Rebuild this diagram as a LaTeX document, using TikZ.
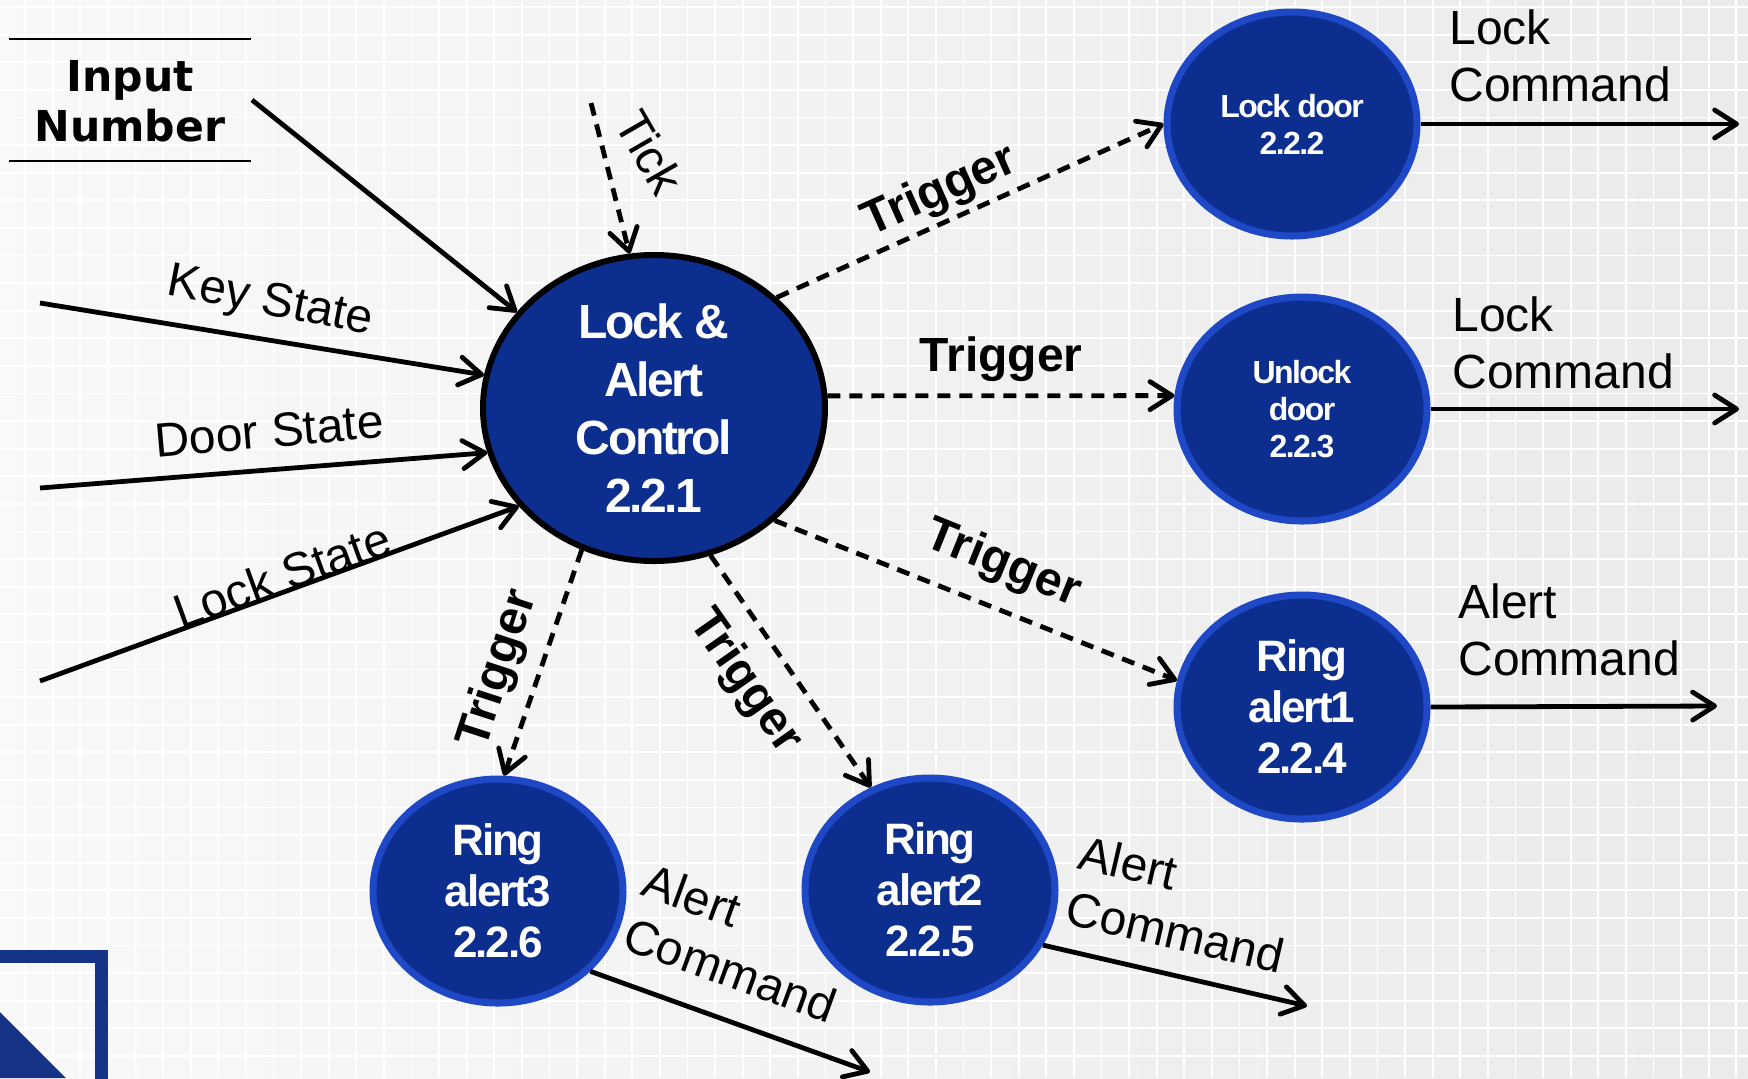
\documentclass[tikz,border=0pt]{standalone}
\usepackage{fontspec}
\setmainfont{Liberation Sans}
\newfontfamily\storefont{DejaVu Sans}
\newfontfamily\procfont[LetterSpace=-5]{Liberation Sans}
\usetikzlibrary{
    arrows.meta,
    shapes.geometric
}
\definecolor{procblue}{RGB}{12,46,142}
\definecolor{ringblue}{RGB}{30,72,198}
\definecolor{frameblue}{RGB}{22,52,135}

\begin{document}
\begin{tikzpicture}[x=0.5pt, y=-0.5pt,
    >={Straight Barb[length=11pt,width=14pt,round]},
    flow/.style={->, line width=2.4pt},
    trig/.style={->, line width=2.4pt, dash pattern=on 6.5pt off 4.5pt},
    proc/.style={ellipse, fill=procblue, draw=ringblue, line width=3.5pt,
        inner sep=0pt, text=white, align=center,
        minimum width=125pt, minimum height=112pt},
    ctlproc/.style={ellipse, fill=procblue, draw=black, line width=3pt,
        inner sep=0pt, text=white, align=center,
        minimum width=171pt, minimum height=153pt,
        font=\procfont\bfseries\fontsize{24}{29}\selectfont},
    smalltxt/.style={font=\procfont\bfseries\fontsize{16}{18.5}\selectfont},
    ringtxt/.style={font=\procfont\bfseries\fontsize{22}{25.5}\selectfont},
    lbl/.style={font=\fontsize{24}{28.5}\selectfont, align=left, inner sep=0pt},
    trg/.style={font=\bfseries\fontsize{24}{28}\selectfont, inner sep=0pt}
]
    \useasboundingbox (0,0) rectangle (1748,1078);
    % background paper
    \shade[left color=gray!5, right color=gray!16] (0,0) rectangle (1748,1078);
    \foreach \gx in {25,52.6,...,1748}
        \draw[white, line width=0.9pt] (\gx,0) -- (\gx,1078);
    \foreach \gy in {7,34.6,...,1078}
        \draw[white, line width=0.9pt] (0,\gy) -- (1748,\gy);
    % corner mark
    \draw[frameblue, line width=6.5pt] (-10,956) -- (101,956) -- (101,1090);
    \fill[frameblue] (0,1012) -- (66,1078) -- (0,1078) -- cycle;
    \draw[white, line width=1pt] (0,1010) -- (68,1078);

    % processes
    \node[ctlproc] (ctl) at (654,408) {Lock \&\\Alert\\Control\\2.2.1};
    \node[proc, smalltxt] (ldoor) at (1292,124) {Lock door\\2.2.2};
    \node[proc, smalltxt] (udoor) at (1302,409) {Unlock\\door\\2.2.3};
    \node[proc, ringtxt] (ring1) at (1302,707) {Ring\\alert1\\2.2.4};
    \node[proc, ringtxt] (ring2) at (930,890) {Ring\\alert2\\2.2.5};
    \node[proc, ringtxt] (ring3) at (498,891) {Ring\\alert3\\2.2.6};

    % data store
    \node[font=\storefont\bfseries\fontsize{21.3}{25}\selectfont, align=center,
        inner sep=0pt] (innum) at (130,101) {Input\\Number};
    \draw[line width=1pt] (9,39) -- (251,39);
    \draw[line width=1pt] (9,161) -- (251,161);

    % free ends
    \coordinate (numsrc) at (252,100);
    \coordinate (keysrc) at (40,303);
    \coordinate (doorsrc) at (40,488);
    \coordinate (locksrc) at (40,681);
    \coordinate (ticksrc) at (591,103);
    \coordinate (ldoorout) at (1739,124);
    \coordinate (udoorout) at (1739,409);
    \coordinate (ring1out) at (1717,706);
    \coordinate (ring2out) at (1307,1006);
    \coordinate (ring3out) at (870,1072);

    \draw[flow] (numsrc) -- (ctl.145);
    \draw[flow] (keysrc) -- (ctl.169);
    \draw[flow] (doorsrc) -- (ctl.195);
    \draw[flow] (locksrc) -- (ctl.216);
    \draw[trig] (ticksrc) -- (ctl.99);
    \draw[trig] (ctl.42) -- (ldoor.west);
    \draw[trig] (ctl.4) -- (udoor.174);
    \draw[trig] (ctl.317) -- (ring1.168);
    \draw[trig] (ctl.291) -- (ring2.120);
    \draw[trig] (ctl.243) -- (ring3.87);
    \draw[flow] (ldoor.east) -- (ldoorout);
    \draw[flow] (udoor.east) -- (udoorout);
    \draw[flow] (ring1.east) -- (ring1out);
    \draw[flow] (ring2.334) -- (ring2out);
    \draw[flow] (ring3.319) -- (ring3out);

    % labels
    \node[lbl, rotate=-11] (keylbl) at (270,303) {Key State};
    \node[lbl, rotate=5] (doorlbl) at (269,431) {Door State};
    \node[lbl, rotate=20] (locklbl) at (282,575) {Lock State};
    \node[lbl, rotate=-60] (ticklbl) at (650,152) {Tick};
    \node[trg, rotate=24] (trg1) at (940,192) {Trigger};
    \node[trg] (trg2) at (1001,359) {Trigger};
    \node[trg, rotate=-22] (trg3) at (1003,565) {Trigger};
    \node[trg, rotate=-55] (trg4) at (745,682) {Trigger};
    \node[trg, rotate=72] (trg5) at (499,669) {Trigger};
    \node[lbl, anchor=west] (lc1) at (1449,56) {Lock\\Command};
    \node[lbl, anchor=west] (lc2) at (1452,343) {Lock\\Command};
    \node[lbl, anchor=west] (ac1) at (1458,630) {Alert\\Command};
    \node[lbl, rotate=-13] (ac2) at (1182,904) {Alert\\Command};
    \node[lbl, rotate=-20] (ac3) at (740,943) {Alert\\Command};
\end{tikzpicture}
\end{document}
